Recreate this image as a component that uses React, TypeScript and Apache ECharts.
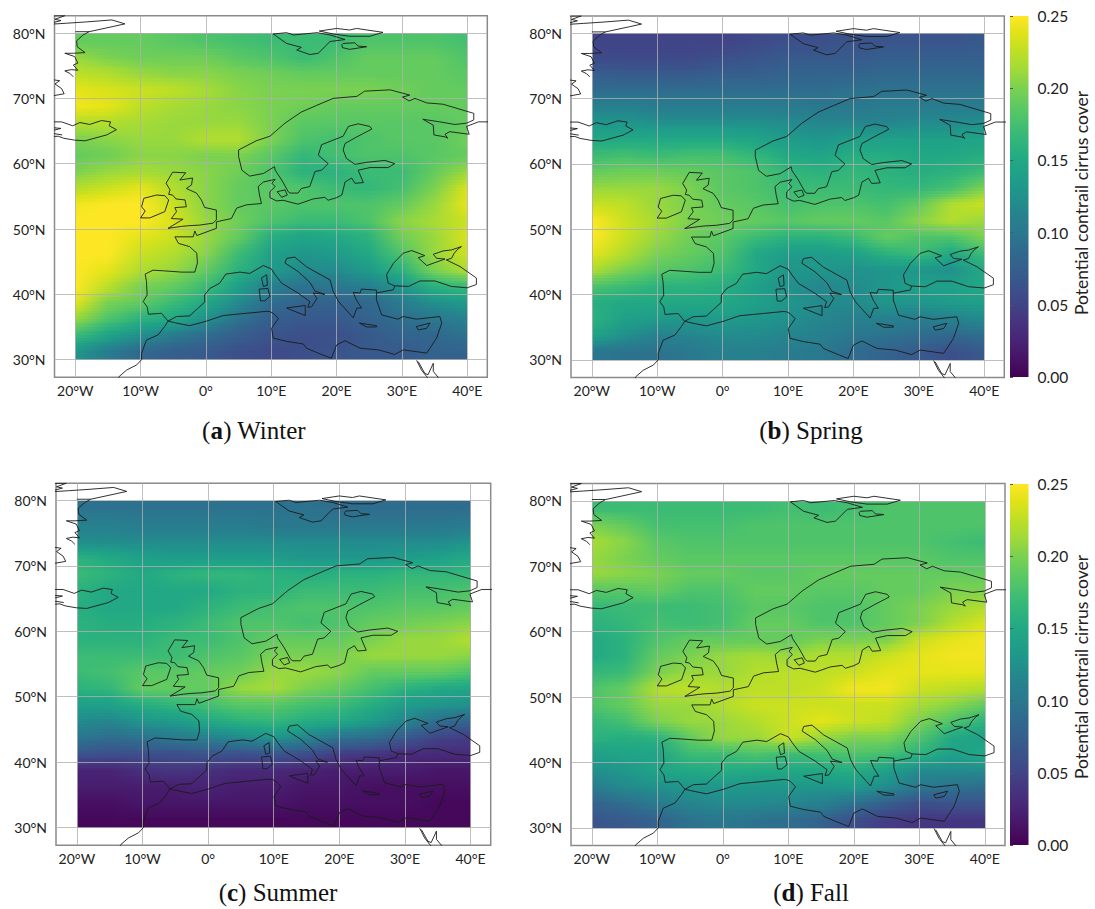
import React, { useEffect, useRef } from "react";
import * as echarts from "echarts";

const lonTicks = [-20, -10, 0, 10, 20, 30, 40];
const latTicks = [30, 40, 50, 60, 70, 80];
const colorTicksLabelDigits = 2;
const lonNodes = [-20, -15, -10, -5, 0, 5, 10, 15, 20, 25, 30, 35, 40];
const latBandTops = [80, 77.5, 75, 72.5, 70, 67.5, 65, 62.5, 60, 57.5, 55, 52.5, 50, 47.5, 45, 42.5, 40, 37.5, 35, 32.5];
const viridis = ["#440154", "#471365", "#482475", "#46337f", "#414487", "#3b528b", "#355f8d", "#306a8e", "#2a788e", "#26828e", "#21918c", "#1f9e89", "#22a884", "#2fb47c", "#44bf70", "#5ec962", "#7ad151", "#a0da39", "#bddf26", "#dfe318", "#fde725"];

// potential contrail cirrus cover, in hundredths, north to south, west to east
const winter = [
  [19, 19, 19, 18.5, 18, 17.5, 17, 17, 17, 18, 18, 18, 17.5],
  [21, 20, 19.5, 19.5, 19.5, 18.5, 18, 17, 18, 19, 19, 19, 18],
  [22.5, 22, 21, 20.5, 20.5, 20, 19.5, 19, 19, 19, 19, 19, 18.5],
  [24, 23.5, 23, 22.5, 21.5, 20.5, 20, 20, 20, 20, 19.5, 19, 19],
  [24.5, 24, 22.5, 21.5, 21, 20.5, 20, 19.5, 19, 19, 19, 19, 19],
  [22, 22, 21.5, 21, 21, 21, 20, 18.5, 18.5, 18.5, 18.5, 18.5, 19],
  [20, 20.5, 21, 21, 22, 22, 20, 18, 17.5, 18, 18.5, 18.5, 19.5],
  [19, 19.5, 20.5, 20.5, 20, 20, 18.5, 16.5, 17.5, 18, 18, 18.5, 19],
  [20, 21, 21.5, 21, 20.5, 19.5, 18, 16, 16, 17, 17, 19, 21],
  [22, 23, 24, 22, 20.5, 19, 18.5, 18, 17, 16.5, 17.5, 20, 23.5],
  [24.5, 25, 25, 23, 20.5, 19, 18.5, 18, 18, 18, 19, 21, 24],
  [25, 25, 25, 23.5, 21, 19.5, 18, 17, 17, 18, 20.5, 21.5, 23],
  [25, 25, 24, 23, 21, 19, 15.5, 14.5, 15, 16, 19.5, 21, 23.5],
  [25, 25, 23, 22, 20.5, 17, 14, 13, 13.5, 15, 18, 21, 23],
  [25, 24, 22, 21, 19, 16, 13.5, 12, 12, 13.5, 16, 20, 22],
  [25, 22.5, 20, 19, 17, 14, 11, 9.5, 10, 11, 13, 16, 17],
  [24, 20, 19, 17, 15, 12, 9, 8, 8, 8.5, 10.5, 12.5, 13.5],
  [21, 18, 16, 15, 12.5, 9.5, 7.5, 7, 7, 8, 9, 10, 11],
  [17, 14.5, 12.5, 10.5, 9, 7.5, 6.5, 6, 6, 7, 8, 8.5, 9.5],
  [13, 10.5, 8.5, 7.5, 7, 6, 5.5, 6, 6.5, 7, 7, 8, 8],
];
const spring = [
  [5, 5, 5, 5, 5, 5.5, 6, 6, 6.5, 6.5, 6.5, 6.5, 7],
  [5.5, 5.5, 5.5, 5.5, 6, 6.5, 7, 7, 7, 7.5, 7.5, 7.5, 7.5],
  [7.5, 7, 7, 7, 7.5, 7.5, 8, 8, 8, 8.5, 8.5, 8.5, 8.5],
  [9, 9, 9, 9, 9, 9, 9, 9, 9.5, 9.5, 9.5, 9.5, 9.5],
  [11, 11, 10.5, 10.5, 10.5, 10.5, 10.5, 10, 10, 10.5, 10.5, 10.5, 10.5],
  [13, 13, 12.5, 12.5, 12.5, 12.5, 12, 11.5, 11.5, 11.5, 12, 12, 12.5],
  [15, 15, 15, 15, 15, 14.5, 13.5, 13, 14, 14, 14, 14, 14.5],
  [17, 17.5, 17, 17.5, 17.5, 16.5, 15, 14.5, 15.5, 15.5, 15, 15, 15.5],
  [19, 19.5, 19.5, 19, 18.5, 18, 16.5, 16, 16.5, 16, 15.5, 16, 17],
  [21, 21, 21, 20, 18.5, 18, 17, 17, 17, 16.5, 16.5, 17.5, 20],
  [23, 22.5, 21, 20, 19, 18.5, 17.5, 18, 18, 17.5, 19, 22, 23],
  [25, 23, 21.5, 20, 19.5, 19, 18.5, 19, 19, 18.5, 20.5, 22, 21],
  [25, 23, 21, 19.5, 18.5, 17, 16, 16, 17, 19, 18, 18, 20],
  [24, 22, 20, 19, 18, 15, 13.5, 13.5, 14, 16, 17, 15, 17],
  [22, 20, 18.5, 18, 17, 15, 13, 13, 12.5, 13, 13, 12.5, 15],
  [18, 17, 16, 16, 15.5, 14, 12.5, 11.5, 12, 13, 14, 14, 15],
  [15.5, 15, 15, 15, 15, 14, 13, 12, 12, 13, 13, 13.5, 14],
  [16, 14, 13.5, 13, 13.5, 13, 12.5, 11.5, 11, 11, 10.5, 11, 12],
  [14.5, 12.5, 11, 11.5, 12, 12, 11.5, 11, 10, 9.5, 9, 8.5, 9],
  [10, 9.5, 9.5, 10, 11, 11, 10.5, 10, 9, 8, 7, 6, 7],
];
const summer = [
  [9.5, 9.5, 9.5, 9.5, 9.5, 9.5, 9.5, 9.5, 9, 9, 9, 9, 9],
  [11, 11, 10.5, 10.5, 10.5, 10.5, 10, 10, 10, 10, 10, 10, 10.5],
  [12, 12, 12, 12, 12, 12, 12, 12, 12, 12, 12, 12, 12.5],
  [16, 15, 14, 13.5, 13.5, 13.5, 13.5, 13, 13, 13, 13.5, 14, 15],
  [17, 16, 15, 16, 16.5, 16.5, 16, 15.5, 16, 16, 16.5, 16.5, 16.5],
  [16, 15, 15, 15, 15, 16, 16, 17, 17, 17, 17.5, 17.5, 18],
  [15.5, 15, 15, 15, 16, 17, 17.5, 18, 18, 18, 18.5, 18.5, 19],
  [16, 15.5, 15.5, 16, 17, 18, 18, 17.5, 18, 19, 19.5, 20, 20.5],
  [16, 16, 16, 17, 17, 18, 19, 19, 19, 20, 21, 21, 22],
  [17, 17, 17, 17, 18, 18.5, 20, 20, 20, 21, 21, 21, 20.5],
  [17, 17.5, 18.5, 18.5, 19, 19.5, 21, 21, 20.5, 19, 19, 19, 18],
  [16, 16.5, 19, 19, 19, 21, 21.5, 20, 19, 17.5, 16, 15, 14.5],
  [14, 14, 15.5, 16.5, 17.5, 18.5, 18.5, 17.5, 17, 15.5, 13.5, 13, 12.5],
  [12, 11.5, 13, 13.5, 15, 16, 16.5, 15.5, 15, 13.5, 11.5, 9, 8],
  [10, 9, 9.5, 10.5, 11, 12, 13, 11.5, 9.5, 9, 7, 5, 4.5],
  [6.5, 6, 6, 6, 6.5, 6, 6.5, 6, 4.5, 4, 3, 3, 3],
  [2.5, 2.5, 3.5, 4, 3.5, 3, 3, 2.5, 2, 2, 2, 1.5, 1.5],
  [2, 2, 2, 2, 2.5, 2, 2, 1.5, 1.5, 1, 1, 1, 1],
  [1, 1, 1.5, 1.5, 1.5, 1.5, 1.5, 1, 1, 1, 1, 0.5, 0.5],
  [0.5, 0.5, 0.5, 0.5, 0.5, 0.5, 0.5, 0.5, 0.5, 0.5, 0.5, 0.5, 0.5],
];
const fall = [
  [17, 17, 17, 17, 17, 17, 17.5, 17, 17.5, 18, 18, 18, 18],
  [20, 19, 17.5, 17.5, 17.5, 18, 18, 18, 18, 18, 18, 18, 18],
  [21.5, 20.5, 18.5, 18, 18, 18, 18, 18, 18, 18, 18, 17.5, 17],
  [21, 20, 19, 18.5, 18.5, 18.5, 18.5, 18.5, 18.5, 18.5, 18.5, 18, 18],
  [21, 20.5, 20, 19, 19, 18.5, 18.5, 19, 19, 19, 19, 19, 19],
  [18.5, 18.5, 19, 18, 18, 19, 19, 18.5, 18.5, 19, 19, 20, 20],
  [16.5, 17, 17, 17, 17.5, 18.5, 18.5, 18, 18, 19, 20, 21, 22],
  [16, 16.5, 17.5, 17, 17.5, 19, 19, 18, 18, 19, 20, 22, 23.5],
  [15, 16, 18, 19, 19, 19, 19, 20, 20, 20, 23, 24, 24.5],
  [15, 16, 19, 20, 21, 21.5, 21, 22, 22, 23, 24, 24.5, 24.5],
  [16.5, 17, 20, 21, 21, 22, 22.5, 22.5, 23, 24, 24, 24, 24],
  [18, 19, 22, 22.5, 22, 22.5, 22.5, 23, 24.5, 24.5, 23, 22.5, 22],
  [18, 19, 21, 21, 22, 23, 23, 23, 23, 23, 21.5, 20.5, 19],
  [16.5, 17.5, 20, 21, 21, 22, 23, 24, 23, 22.5, 20, 18, 16],
  [16, 15.5, 16, 19, 21, 21, 23, 21, 20, 20, 18, 15, 14],
  [14, 14.5, 14.5, 17, 17, 18, 17, 17.5, 18, 17.5, 16, 14, 15],
  [12.5, 13, 14.5, 15, 15.5, 15, 15, 15, 15.5, 14, 12, 12, 12],
  [10.5, 12, 12.5, 13, 13, 13, 13, 13, 13.5, 12, 10, 9.5, 9],
  [8, 9, 10.5, 11.5, 12, 12, 11.5, 11, 9.5, 7.5, 6, 6.5, 6.5],
  [6.5, 7, 8, 9.5, 10, 9.5, 9, 8, 6, 4.5, 4, 4, 4],
];

// coastlines as [lon, lat]
const greenland = [[-24.5, 82.6], [-21.6, 82.65], [-23.1, 82.1], [-22.2, 81.9], [-24.5, 81.3], [-21.3, 81.5], [-18.3, 81.7], [-14.4, 82.0], [-12.4, 81.4], [-14.2, 81.0], [-17.9, 80.2], [-18.8, 79.7], [-19.8, 78.8], [-19.7, 77.9], [-18.5, 77.0], [-20.3, 76.9], [-21.6, 76.9], [-20.1, 76.4], [-19.6, 75.4], [-20.3, 75.1], [-19.6, 74.3], [-20.6, 74.4], [-21.6, 74.2], [-20.8, 73.8], [-20.3, 73.3]];
const greenlandNorth = [[-20.0, 80.2], [-17.9, 80.2]];
const greenlandSouth = [[-24.5, 73.0], [-22.4, 72.7], [-23.1, 72.2], [-22.1, 71.5], [-21.7, 70.7], [-24.5, 70.2]];
const iceland = [[-24.5, 66.4], [-22.1, 66.4], [-20.4, 65.8], [-19.3, 66.3], [-17.8, 66.0], [-16.0, 66.6], [-14.6, 66.4], [-14.8, 65.8], [-13.7, 65.2], [-15.2, 64.4], [-18.5, 63.5], [-20.1, 63.6], [-21.8, 63.9], [-22.6, 64.2], [-24.5, 64.1]];
const icelandWest = [[-24.5, 65.6], [-22.2, 65.4], [-24.5, 64.8], [-22.0, 64.4]];
const mainland = [[44.5, 66.4], [41.7, 66.4], [39.9, 65.7], [40.3, 64.5], [37.3, 64.9], [36.6, 64.5], [37.0, 63.9], [36.6, 64.1], [34.9, 64.4], [34.8, 65.9], [33.2, 66.8], [35.8, 66.4], [38.1, 66.0], [39.9, 66.2], [41.0, 66.7], [41.0, 67.7], [36.3, 69.1], [33.8, 69.3], [32.0, 70.0], [31.1, 69.6], [30.1, 70.2], [31.2, 70.5], [28.2, 71.3], [24.3, 71.1], [23.1, 70.3], [19.5, 70.0], [16.9, 68.9], [14.6, 67.9], [12.1, 66.2], [9.8, 64.2], [7.7, 63.5], [5.0, 62.1], [5.0, 61.1], [5.5, 59.0], [6.7, 58.1], [8.8, 58.5], [10.5, 59.55], [10.6, 59.0], [11.6, 57.5], [12.6, 55.7], [12.9, 55.5], [14.1, 55.5], [14.6, 56.2], [15.9, 56.5], [16.7, 58.8], [17.7, 59.0], [18.7, 60.0], [17.2, 61.3], [17.7, 62.9], [21.0, 64.2], [21.8, 65.7], [23.3, 66.1], [25.1, 65.7], [25.4, 65.3], [23.1, 64.1], [21.3, 63.1], [21.0, 62.1], [21.5, 60.8], [22.8, 59.9], [24.6, 60.2], [27.4, 60.5], [28.9, 60.0], [27.9, 59.4], [25.1, 59.4], [23.3, 59.0], [24.1, 57.1], [22.8, 57.0], [22.3, 57.8], [21.3, 57.2], [20.8, 55.2], [20.0, 54.8], [18.7, 54.4], [18.2, 54.85], [16.4, 54.6], [14.1, 53.8], [11.8, 54.4], [10.8, 54.3], [9.8, 54.8], [9.8, 55.7], [10.6, 56.5], [10.1, 57.0], [10.6, 57.6], [8.8, 57.2], [8.0, 56.5], [8.2, 55.2], [8.5, 53.9], [6.2, 53.7], [4.7, 53.2], [3.9, 51.6], [1.6, 51.1], [1.6, 50.1], [-1.4, 49.0], [-1.7, 49.7], [-1.95, 48.8], [-4.75, 48.8], [-4.2, 47.8], [-2.5, 47.3], [-1.4, 46.3], [-1.3, 44.8], [-1.7, 43.4], [-3.7, 43.4], [-6.5, 43.6], [-8.1, 43.7], [-9.3, 43.1], [-9.1, 41.95], [-9.0, 39.9], [-9.6, 38.9], [-9.0, 38.1], [-8.8, 36.95], [-6.8, 37.1], [-5.8, 35.9], [-4.5, 36.6], [-2.5, 36.7], [-0.2, 38.8], [-0.2, 39.9], [0.6, 40.9], [2.1, 41.7], [3.05, 43.1], [5.2, 43.4], [6.7, 43.2], [8.8, 44.4], [10.0, 43.9], [10.6, 43.0], [11.6, 41.7], [14.1, 40.2], [15.9, 38.9], [15.6, 38.0], [16.2, 38.1], [17.0, 39.4], [16.4, 40.2], [18.2, 40.0], [16.7, 40.5], [15.9, 41.85], [14.1, 43.5], [12.1, 44.8], [12.35, 45.5], [13.6, 45.7], [15.4, 44.2], [19.0, 42.2], [19.5, 40.4], [20.3, 38.9], [22.55, 36.4], [23.1, 37.9], [23.8, 37.9], [23.0, 39.2], [22.55, 40.3], [23.6, 40.2], [23.8, 40.8], [26.1, 40.65], [26.1, 40.2], [28.7, 40.7], [28.9, 41.3], [27.9, 41.7], [27.65, 43.0], [28.7, 44.75], [30.2, 46.3], [31.5, 46.7], [33.5, 45.93], [32.5, 45.6], [33.8, 44.4], [35.05, 44.86], [36.6, 45.4], [35.3, 45.52], [34.8, 46.13], [36.3, 46.64], [37.6, 46.8], [39.1, 47.3], [38.6, 46.95], [38.0, 46.3], [37.6, 45.52], [36.8, 45.27], [38.9, 44.25], [41.4, 42.5], [41.4, 41.5], [40.0, 41.0], [37.6, 41.2], [35.05, 42.05], [32.75, 42.05], [31.0, 41.2], [28.9, 41.3]];
const anatoliaAfrica = [[26.1, 40.2], [26.1, 39.15], [26.9, 36.85], [29.4, 36.2], [30.2, 36.6], [32.2, 36.2], [35.8, 36.6], [36.1, 35.6], [35.3, 33.3], [33.8, 31.0], [30.2, 31.5], [28.9, 30.8], [26.4, 31.5], [23.6, 31.75], [21.3, 32.9], [20.0, 32.25], [19.2, 30.2], [17.2, 31.0], [15.4, 31.75], [14.9, 32.4], [12.35, 32.8], [10.3, 33.3], [10.05, 34.8], [11.1, 36.3], [10.3, 37.1], [9.8, 37.35], [9.3, 37.4], [6.2, 37.1], [2.6, 36.75], [0.1, 35.9], [-2.5, 35.2], [-4.5, 35.6], [-5.8, 35.9], [-6.3, 35.1], [-7.3, 33.8], [-9.1, 33.0], [-9.85, 31.0], [-9.85, 30.0], [-10.6, 29.2], [-12.15, 28.4], [-13.3, 27.4], [-13.7, 26.6]];
const britain = [[-5.1, 58.7], [-3.1, 58.6], [-4.0, 57.5], [-2.05, 57.8], [-2.2, 56.75], [-3.0, 56.2], [-1.45, 55.5], [-0.7, 54.45], [-0.2, 53.3], [1.6, 52.9], [1.6, 51.4], [1.1, 50.9], [-0.95, 50.6], [-2.7, 50.5], [-3.7, 50.4], [-5.8, 50.1], [-3.5, 51.5], [-5.3, 51.6], [-4.5, 52.66], [-4.75, 53.27], [-3.0, 53.4], [-3.2, 54.45], [-4.6, 54.6], [-5.1, 55.2], [-5.7, 55.3], [-5.5, 56.0], [-6.1, 57.0], [-5.1, 58.7]];
const ireland = [[-9.85, 53.4], [-9.5, 54.7], [-7.55, 55.2], [-6.3, 55.1], [-5.7, 54.45], [-6.3, 52.66], [-8.6, 51.7], [-10.0, 51.7], [-9.3, 52.75], [-9.85, 53.4]];
const spitsbergen = [[10.3, 79.85], [12.35, 80.05], [13.4, 79.7], [17.0, 80.05], [19.0, 79.7], [21.3, 79.0], [19.0, 78.7], [17.2, 76.9], [15.9, 76.7], [13.9, 77.4], [14.6, 77.8], [12.35, 78.4], [10.3, 79.85]];
const nordaustlandet = [[17.35, 80.3], [20.0, 80.7], [22.0, 80.46], [23.06, 80.7], [27.1, 80.1], [25.1, 79.5], [22.0, 79.5], [19.5, 79.85], [17.35, 80.3]];
const edgeoya = [[20.8, 78.2], [21.0, 78.4], [22.8, 78.5], [23.3, 78.0], [24.6, 77.9], [22.0, 77.5], [20.9, 77.76], [20.8, 78.2]];
const zealand = [[10.9, 55.7], [12.1, 56.0], [12.45, 55.2], [11.6, 54.85], [10.9, 55.7]];
const sardinia = [[8.15, 40.8], [9.5, 40.9], [9.8, 39.65], [9.0, 39.0], [8.35, 39.0], [8.15, 40.8]];
const corsica = [[8.5, 42.5], [9.3, 43.0], [9.4, 41.4], [8.8, 41.2], [8.5, 42.5]];
const sicily = [[12.35, 37.9], [15.2, 38.3], [15.2, 36.75], [12.35, 37.9]];
const crete = [[23.5, 35.6], [26.1, 35.2], [26.1, 35.0], [24.6, 35.0], [23.5, 35.6]];
const cyprus = [[32.2, 35.06], [34.3, 35.6], [33.8, 34.8], [32.5, 34.55], [32.2, 35.06]];
const suezWest = [[32.25, 29.9], [33.0, 28.4], [33.8, 27.4], [34.4, 26.6]];
const suezEast = [[32.5, 29.7], [33.5, 27.9], [34.0, 27.7], [34.8, 29.45], [34.8, 28.2], [35.55, 27.3], [36, 26.6]];
const coastSegments = [greenland, greenlandNorth, greenlandSouth, iceland, icelandWest, mainland, anatoliaAfrica, britain, ireland, spitsbergen, nordaustlandet, edgeoya, zealand, sardinia, corsica, sicily, crete, cyprus, suezWest, suezEast];

const LON_MIN = -23.18, LON_MAX = 43.07, LAT_MIN = 27.3, LAT_MAX = 82.65;
const COLOR_MAX = 0.25;
const STRIPS = 6;
const labelFont = "Lato";
const captionFont = "Liberation Serif";

const panels = [
  { rows: winter, box: { left: 54.5, top: 15.7, width: 432.8, height: 361.6 }, letter: "a", name: "Winter", cx: 254, cy: 430 },
  { rows: spring, box: { left: 571, top: 15.9, width: 433.3, height: 361.6 }, letter: "b", name: "Spring", cx: 811, cy: 430 },
  { rows: summer, box: { left: 56, top: 483.2, width: 434.7, height: 362 }, letter: "c", name: "Summer", cx: 278, cy: 892 },
  { rows: fall, box: { left: 571, top: 483.5, width: 434, height: 362 }, letter: "d", name: "Fall", cx: 811, cy: 892 },
];
const colorBars = [
  { box: { left: 1010, top: 16, width: 18.5, height: 361 }, labelY: 203 },
  { box: { left: 1010, top: 484, width: 18.5, height: 361 }, labelY: 667 },
];

const shade = (v: number) => echarts.color.lerp(Math.max(0, Math.min(1, v / COLOR_MAX)), viridis);

// Each row is shaded smoothly towards its neighbours, as the reference's raster is.
const makeHeatRender = (rows: number[][]) => (params: any, api: any) => {
  const r = params.dataIndex;
  const latTop = api.value(0);
  const a = api.coord([lonNodes[0], latTop]);
  const b = api.coord([lonNodes[lonNodes.length - 1], latTop - 2.5]);
  const h = (b[1] - a[1]) / STRIPS;
  const children: any[] = [];
  const lastRow = r === rows.length - 1;
  for (let s = 0; s < STRIPS; s++) {
    const f = (s + 0.5) / STRIPS;
    const other = f < 0.5 ? rows[Math.max(0, r - 1)] : rows[Math.min(rows.length - 1, r + 1)];
    const w = Math.abs(f - 0.5);
    const colorStops = lonNodes.map((_, i) => ({
      offset: i / (lonNodes.length - 1),
      color: shade((rows[r][i] * (1 - w) + other[i] * w) / 100),
    }));
    const y0 = Math.round(a[1] + s * h);
    const y1 = Math.round(a[1] + (s + 1) * h);
    const atBottom = lastRow && s === STRIPS - 1;
    children.push({
      type: "rect",
      shape: { x: Math.round(a[0]), y: y0, width: Math.round(b[0]) - Math.round(a[0]), height: y1 - y0 + (atBottom ? 0 : 1) },
      style: { fill: new echarts.graphic.LinearGradient(0, 0, 1, 0, colorStops) },
    });
  }
  return { type: "group", children };
};

const barRender = (_p: any, api: any) => {
  const a = api.coord([0, COLOR_MAX]);
  const b = api.coord([1, 0]);
  const n = viridis.length - 1;
  const colorStops = viridis.map((_, i) => ({ offset: i / n, color: viridis[n - i] }));
  return {
    type: "rect",
    shape: { x: a[0], y: a[1], width: b[0] - a[0], height: b[1] - a[1] },
    style: { fill: new echarts.graphic.LinearGradient(0, 0, 0, 1, colorStops) },
  };
};

const lonLabel = (v: number) => (v === 0 ? "0°" : v < 0 ? `${-v}°W` : `${v}°E`);
const latLabel = (v: number) => `${v}°N`;
const gridLine = { show: true, lineStyle: { color: "rgba(175,175,175,0.8)", width: 1 } };

function buildOption() {
  const grid: any[] = [];
  const xAxis: any[] = [];
  const yAxis: any[] = [];
  const series: any[] = [];
  const graphic: any[] = [];
  const coast: any[] = [];
  coastSegments.forEach((seg, i) => {
    if (i) coast.push(["-", "-"]);
    coast.push(...seg);
  });

  panels.forEach((p, i) => {
    grid.push({ ...p.box, show: true, borderColor: "#8a8a8a", borderWidth: 1.5, backgroundColor: "#fff" });
    xAxis.push({
      type: "value", gridIndex: i, min: LON_MIN, max: LON_MAX, z: 4,
      axisLine: { show: false },
      axisTick: { show: false, customValues: lonTicks },
      axisLabel: { customValues: lonTicks, formatter: lonLabel, color: "#222", fontFamily: labelFont, fontSize: 14, margin: 6 },
      splitLine: gridLine,
    });
    yAxis.push({
      type: "value", gridIndex: i, min: LAT_MIN, max: LAT_MAX, z: 4,
      axisLine: { show: false },
      axisTick: { show: false, customValues: latTicks },
      axisLabel: { customValues: latTicks, formatter: latLabel, color: "#222", fontFamily: labelFont, fontSize: 14, margin: 9 },
      splitLine: gridLine,
    });
    series.push({
      type: "custom", xAxisIndex: i, yAxisIndex: i, z: 2, silent: true,
      renderItem: makeHeatRender(p.rows),
      data: p.rows.map((row, r) => [latBandTops[r], ...row]),
    });
    series.push({
      type: "line", xAxisIndex: i, yAxisIndex: i, z: 5, silent: true,
      showSymbol: false, symbol: "none", connectNulls: false,
      lineStyle: { color: "#1c1c1c", width: 1, opacity: 0.9 },
      data: coast,
    });
    graphic.push({
      type: "text", x: p.cx, y: p.cy, silent: true,
      style: {
        text: `({b|${p.letter}}) ${p.name}`,
        rich: { b: { fontWeight: "bold", fontFamily: captionFont, fontSize: 25, fill: "#111" } },
        fontFamily: captionFont, fontSize: 25, fill: "#111", align: "center", verticalAlign: "middle",
      },
    });
  });

  colorBars.forEach((c, k) => {
    const i = panels.length + k;
    grid.push({ ...c.box, show: false });
    xAxis.push({ type: "value", gridIndex: i, min: 0, max: 1, show: false });
    yAxis.push({
      type: "value", gridIndex: i, position: "right", min: 0, max: COLOR_MAX, interval: 0.05, z: 4,
      axisLine: { show: false },
      axisTick: { show: true, length: 3, lineStyle: { color: "#555" } },
      axisLabel: { formatter: (v: number) => v.toFixed(colorTicksLabelDigits), color: "#222", fontFamily: labelFont, fontSize: 15.5, margin: 9 },
      splitLine: { show: false },
    });
    series.push({
      type: "custom", xAxisIndex: i, yAxisIndex: i, z: 2, silent: true,
      renderItem: barRender, data: [[0, 0]],
    });
    graphic.push({
      type: "text", x: 1081, y: c.labelY, rotation: Math.PI / 2, silent: true,
      style: {
        text: "Potential contrail cirrus cover", fontFamily: labelFont, fontSize: 17.5, fill: "#222",
        align: "center", verticalAlign: "middle",
      },
    });
  });

  return { animation: false, backgroundColor: "#fff", grid, xAxis, yAxis, series, graphic };
}

export default function App() {
  const ref = useRef<HTMLDivElement>(null);
  useEffect(() => {
    const chart = echarts.init(ref.current!, undefined, { renderer: "svg" });
    chart.setOption(buildOption() as any);
    return () => chart.dispose();
  }, []);
  return <div ref={ref} style={{ position: "absolute", left: 0, top: 0, width: 1095, height: 909 }} />;
}
